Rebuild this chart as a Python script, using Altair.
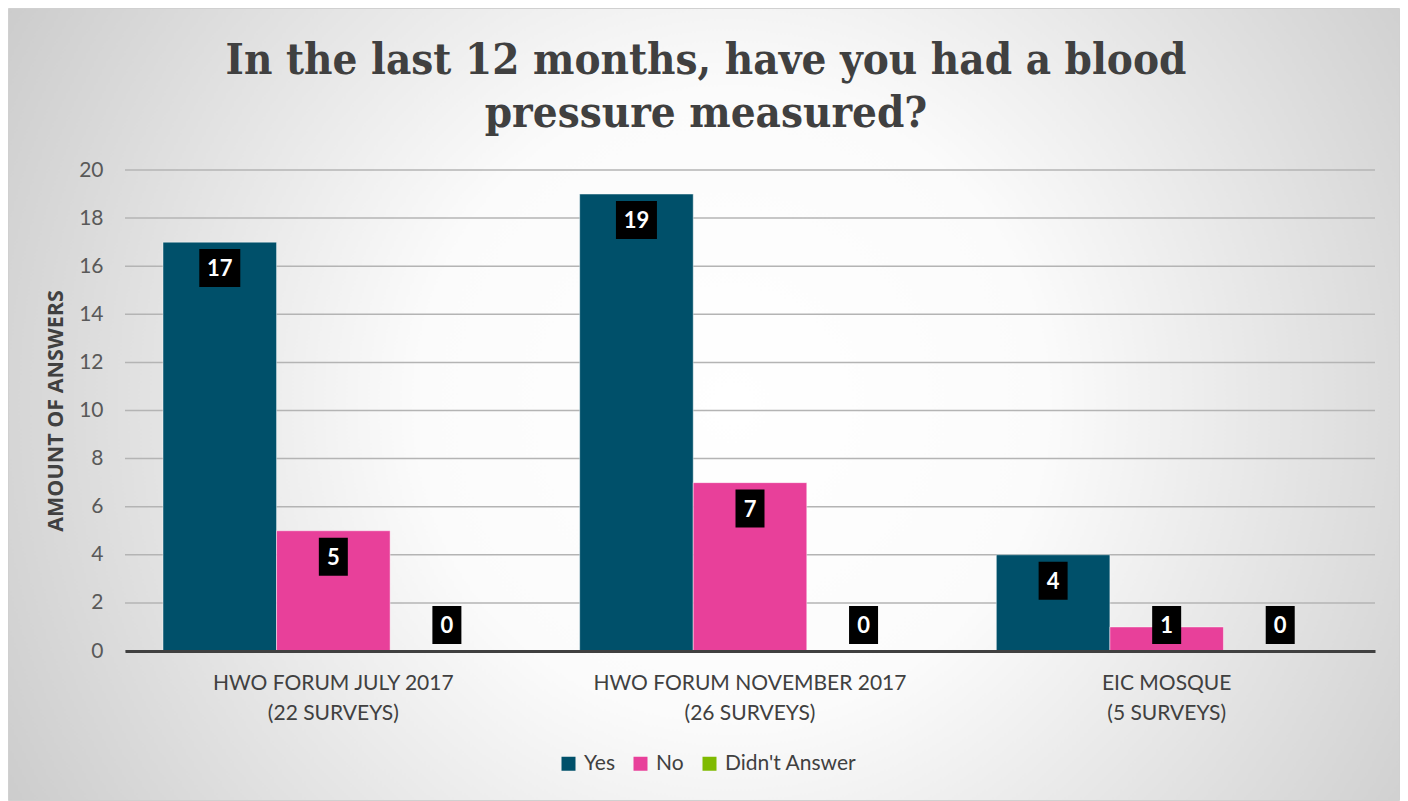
import altair as alt
import pandas as pd

# ---- data ----
categories = [
    "HWO FORUM JULY 2017|(22 SURVEYS)",
    "HWO FORUM NOVEMBER 2017|(26 SURVEYS)",
    "EIC MOSQUE|(5 SURVEYS)",
]
series = ["Yes", "No", "Didn't Answer"]
yes_vals = [17, 19, 4]
no_vals = [5, 7, 1]
didnt_vals = [0, 0, 0]
y_ticks = [0, 2, 4, 6, 8, 10, 12, 14, 16, 18, 20]
colors = ["#00506A", "#E8409A", "#7FBA00"]

rows = []
for s, vals in zip(series, [yes_vals, no_vals, didnt_vals]):
    for c, v in zip(categories, vals):
        rows.append({"cat": c, "series": s, "value": v, "label": str(v), "ndig": str(len(str(v)))})
df = pd.DataFrame(rows)
grid_df = pd.DataFrame({"tick": y_ticks})
bg_df = pd.DataFrame({"a": [0]})

PW, PH = 1250, 481
PAD_L, PAD_T = 117, 162
TOTAL_W, TOTAL_H = 1392, 793

x_enc = alt.X(
    "cat:N",
    sort=categories,
    scale=alt.Scale(paddingInner=0.1824, paddingOuter=0.0912),
    axis=alt.Axis(
        title=None,
        labelExpr="split(datum.label, '|')",
        labelFont="Lato",
        labelFontSize=21,
        labelColor="#404040",
        labelLineHeight=30,
        labelPadding=21,
        labelLimit=500,
        labelAngle=0,
        ticks=False,
        domainColor="#404040",
        domainWidth=3,
        grid=False,
        zindex=2,
    ),
)
xoff = alt.XOffset("series:N", sort=series, scale=alt.Scale(paddingInner=0, paddingOuter=0))
y_scale = alt.Scale(domain=[0, 20], nice=False)

background = alt.Chart(bg_df).mark_rect(
    fill=alt.RadialGradient(
        gradient="radial",
        stops=[
            alt.GradientStop(offset=0, color="#ffffff"),
            alt.GradientStop(offset=0.3, color="#fbfbfb"),
            alt.GradientStop(offset=1, color="#b8b8b8"),
        ],
        x1=0.52, y1=0.5, r1=0, x2=0.52, y2=0.5, r2=0.75,
    ),
    stroke="#d0d0d0",
    strokeWidth=1,
).encode(
    x=alt.value(-PAD_L + 0.5),
    x2=alt.value(TOTAL_W - PAD_L - 0.5),
    y=alt.value(-PAD_T + 0.5),
    y2=alt.value(TOTAL_H - PAD_T - 0.5),
)

grid = alt.Chart(grid_df).mark_rule(color="#b4b4b4", strokeWidth=1.5).encode(
    y=alt.Y("tick:Q", scale=y_scale),
    x=alt.value(0),
    x2=alt.value(PW),
)

bars = alt.Chart(df).mark_bar(stroke="#ffffff", strokeOpacity=0.45, strokeWidth=1).encode(
    x=x_enc,
    xOffset=xoff,
    y=alt.Y(
        "value:Q",
        scale=y_scale,
        axis=alt.Axis(
            title="AMOUNT OF ANSWERS",
            titleFont="Open Sans",
            titleFontSize=21.5,
            titleFontWeight="bold",
            titleColor="#404040",
            titlePadding=11,
            values=y_ticks,
            labelFont="Lato",
            labelFontSize=21,
            labelColor="#595959",
            labelPadding=22,
            ticks=False,
            domain=False,
            grid=False,
            zindex=2,
        ),
    ),
    color=alt.Color(
        "series:N",
        sort=series,
        scale=alt.Scale(domain=series, range=colors),
        legend=alt.Legend(
            title=None,
            orient="none",
            direction="horizontal",
            legendX=433,
            legendY=583,
            symbolType="square",
            symbolSize=196,
            symbolStrokeWidth=0,
            labelFont="Lato",
            labelFontSize=21,
            labelColor="#404040",
            labelOffset=5,
            columnPadding=15,
        ),
    ),
)

lab_base = alt.Chart(df).transform_calculate(
    ly="max(datum.value - 1.08, 1.08)"
)

boxes = lab_base.mark_point(filled=True, opacity=1, color="#000000", size=1444).encode(
    x=alt.X("cat:N", sort=categories),
    xOffset=xoff,
    y=alt.Y("ly:Q", scale=y_scale),
    shape=alt.Shape(
        "ndig:N",
        scale=alt.Scale(
            domain=["1", "2"],
            range=[
                "M-0.763,-1L0.763,-1L0.763,1L-0.763,1Z",
                "M-1.079,-1L1.079,-1L1.079,1L-1.079,1Z",
            ],
        ),
        legend=None,
    ),
)

texts = lab_base.mark_text(
    font="Lato", fontSize=22, fontWeight="bold", color="#ffffff", baseline="middle", dy=1
).encode(
    x=alt.X("cat:N", sort=categories),
    xOffset=xoff,
    y=alt.Y("ly:Q", scale=y_scale),
    text="label:N",
)

chart = alt.layer(background, grid, bars, boxes, texts).properties(
    width=PW,
    height=PH,
    autosize=alt.AutoSizeParams(type="none"),
    padding={"left": PAD_L, "top": PAD_T, "right": TOTAL_W - PAD_L - PW, "bottom": TOTAL_H - PAD_T - PH},
    title=alt.TitleParams(
        text=["In the last 12 months, have you had a blood", "pressure measured?"],
        font="DejaVu Serif Condensed",
        fontSize=43.5,
        fontWeight="bold",
        color="#404040",
        anchor="middle",
        frame="group",
        baseline="alphabetic",
        dx=-44,
        offset=-162,
        lineHeight=53,
    ),
).configure_view(stroke=None).configure(background="white")

chart.save("out.html", embed_options={"renderer": "svg", "actions": False})
